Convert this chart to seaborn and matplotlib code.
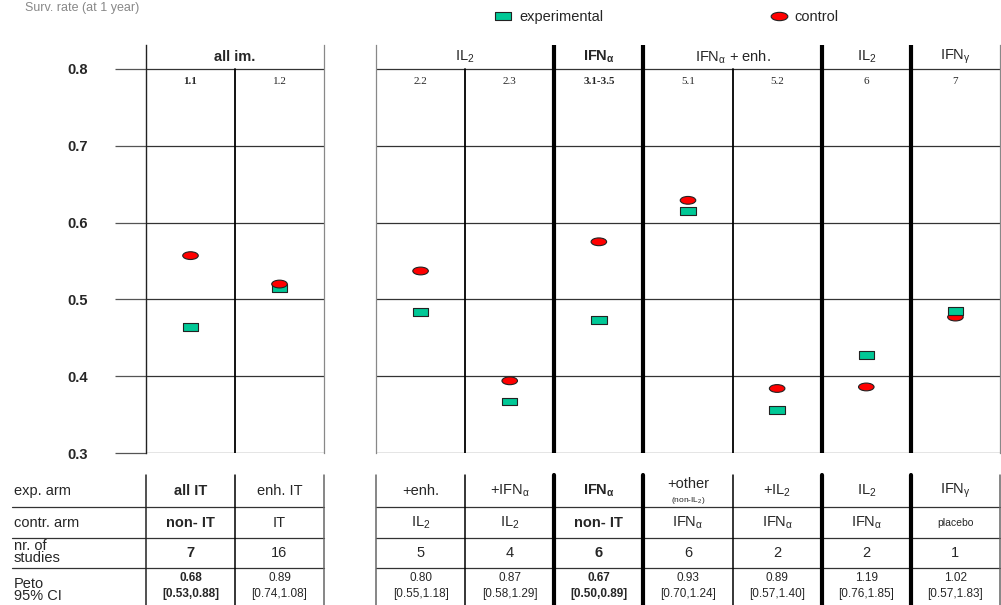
import numpy as np
import pandas as pd
import matplotlib
matplotlib.use("Agg")
import matplotlib.pyplot as plt
import matplotlib.transforms as mtransforms
from matplotlib.path import Path
from matplotlib.lines import Line2D
import seaborn as sns

sns.set_style('white')
plt.rcParams['font.family'] = ['Liberation Sans', 'DejaVu Sans']
plt.rcParams['mathtext.fontset'] = 'custom'
plt.rcParams['mathtext.rm'] = 'Liberation Sans'
plt.rcParams['mathtext.it'] = 'Liberation Sans'
plt.rcParams['mathtext.bf'] = 'Liberation Sans:bold'
plt.rcParams['mathtext.default'] = 'regular'

# ---- data ----
studies = ["1.1", "1.2", "2.2", "2.3", "3.1-3.5", "5.1", "5.2", "6", "7"]
panel = [0, 0, 1, 1, 1, 1, 1, 1, 1]
exp_rate = [0.464, 0.515, 0.484, 0.367, 0.473, 0.615, 0.356, 0.428, 0.485]
ctrl_rate = [0.557, 0.520, 0.537, 0.394, 0.575, 0.629, 0.384, 0.386, 0.477]
highlight = [True, False, False, False, True, False, False, False, False]

exp_arm = ["all IT", "enh. IT", "+enh.", "+IFN$_\\alpha$", "IFN$_\\mathbf{\\alpha}$",
           "+other", "+IL$_2$", "IL$_2$", "IFN$_\\gamma$"]
ctrl_arm = ["non- IT", "IT", "IL$_2$", "IL$_2$", "non- IT", "IFN$_\\alpha$",
            "IFN$_\\alpha$", "IFN$_\\alpha$", "placebo"]
n_studies = [7, 16, 5, 4, 6, 6, 2, 2, 1]
peto_or = [0.68, 0.89, 0.80, 0.87, 0.67, 0.93, 0.89, 1.19, 1.02]
ci_low = [0.53, 0.74, 0.55, 0.58, 0.50, 0.70, 0.57, 0.76, 0.57]
ci_high = [0.88, 1.08, 1.18, 1.29, 0.89, 1.24, 1.40, 1.85, 1.83]

# header groups per panel: (label, first slot, last slot, bold)
header_left = [("all im.", 0, 1, True)]
header_right = [("IL$_2$", 0, 1, False), ("IFN$_\\mathbf{\\alpha}$", 2, 2, True),
                ("IFN$_\\alpha$ + enh.", 3, 4, False), ("IL$_2$", 5, 5, False),
                ("IFN$_\\gamma$", 6, 6, False)]
# dividers inside the panels: (x, thick)
div_right = [(0.5, False), (1.5, True), (2.5, True), (3.5, False), (4.5, True), (5.5, True)]
div_left = [(0.5, False)]

y_ticks = [0.3, 0.4, 0.5, 0.6, 0.7, 0.8]

TEAL = '#00C896'
RED = '#FF0000'
GRID = '#333333'

rect = Path([(-1, -0.5), (1, -0.5), (1, 0.5), (-1, 0.5), (-1, -0.5)], closed=True)
circ = Path.unit_circle()
ellipse = Path(circ.vertices * np.array([1.0, 0.5]), circ.codes)

df = pd.DataFrame({"study": studies, "panel": panel,
                   "experimental": exp_rate, "control": ctrl_rate})
df["slot"] = df.groupby("panel").cumcount()
long = df.melt(id_vars=["study", "panel", "slot"], value_vars=["experimental", "control"],
               var_name="arm", value_name="rate")

W, H = 1001, 605
fig = plt.figure(figsize=(W / 100, H / 100), dpi=100)


def fx(px):
    return px / W


def fy(py):
    return 1 - py / H


ax_bot, ax_top = 453, 45
ax1 = fig.add_axes([fx(146), fy(ax_bot), fx(324 - 146), (ax_bot - ax_top) / H])
ax2 = fig.add_axes([fx(376), fy(ax_bot), fx(1000 - 376), (ax_bot - ax_top) / H])
ytop = 0.8 + 0.5 * (69 - 45) / (453 - 69)
frac = 0.5 / (ytop - 0.3)

for k, ax in enumerate([ax1, ax2]):
    sub = long[long["panel"] == k]
    order = ["experimental", "control"] if k == 0 else ["control", "experimental"]
    sub = pd.concat([sub[sub["arm"] == a] for a in order])
    sns.scatterplot(data=sub, x="slot", y="rate", hue="arm", style="arm",
                    palette={"experimental": TEAL, "control": RED},
                    markers={"experimental": rect, "control": ellipse},
                    s=125, edgecolor='#222222', linewidth=0.8, legend=False,
                    ax=ax, zorder=5)
    n = int((df["panel"] == k).sum())
    ax.set_xlim(-0.5, n - 0.5)
    ax.set_ylim(0.3, ytop)
    ax.set_xlabel("")
    ax.set_ylabel("")
    ax.set_xticks([])
    for v in y_ticks:
        ax.axhline(v, color=GRID, lw=0.9, zorder=1)
    for s in ["top", "bottom"]:
        ax.spines[s].set_visible(False)
    ax.spines["right"].set_color('#888888')
    ax.spines["right"].set_linewidth(0.9)

ax1.spines["left"].set_color('#222222')
ax1.spines["left"].set_linewidth(1.0)
ax2.spines["left"].set_color('#888888')
ax2.spines["left"].set_linewidth(0.9)

ax1.set_yticks(y_ticks)
ax1.set_yticklabels([f"{v:.1f}" for v in y_ticks], fontweight='bold', fontsize=10.5)
ax1.tick_params(axis='y', length=22, width=0.9, color='#555555', pad=20, left=True)
ax2.set_yticks([])

# column dividers inside the plots
for ax, divs in [(ax1, div_left), (ax2, div_right)]:
    for x, thick in divs:
        ax.axvline(x, ymin=0, ymax=1 if thick else frac, color='black',
                   lw=3.0 if thick else 1.3, zorder=2)

# header groups and study numbers
for ax, groups in [(ax1, header_left), (ax2, header_right)]:
    for label, a, b, bold in groups:
        ax.text((a + b) / 2, (0.8 + ytop) / 2, label, ha='center', va='center',
                fontsize=10.5, fontweight='bold' if bold else 'normal')

for i, row in df.iterrows():
    ax = ax1 if row["panel"] == 0 else ax2
    ax.text(row["slot"], 0.8 - 0.5 * 13 / 384, row["study"], ha='center', va='center',
            fontsize=8, family='Liberation Serif',
            fontweight='bold' if highlight[i] else 'normal')

# ---- table under the plots ----
row_lines = [507, 538, 568]
tab_top, tab_bot = 475, 605
for py in row_lines:
    fig.add_artist(Line2D([fx(12), fx(324)], [fy(py), fy(py)], color=GRID, lw=0.9))
    fig.add_artist(Line2D([fx(376), fx(1000)], [fy(py), fy(py)], color=GRID, lw=0.9))

for ax, divs, n in [(ax1, div_left, 2), (ax2, div_right, 7)]:
    tr = mtransforms.blended_transform_factory(ax.transData, fig.transFigure)
    edges = [(-0.5, False), (n - 0.5, False)]
    for x, thick in edges + divs:
        col = 'black' if (x, thick) in divs else '#666666'
        if ax is ax1 and x == -0.5:
            col = '#222222'
        fig.add_artist(Line2D([x, x], [fy(tab_top), fy(tab_bot)], transform=tr,
                              color=col, lw=3.0 if thick else 1.1))

row_labels = [("exp. arm", 491), ("contr. arm", 523), ("nr. of\nstudies", 552),
              ("Peto\n95% CI", 590)]
for lab, py in row_labels:
    fig.text(fx(14), fy(py), lab, ha='left', va='center', fontsize=10.5,
             linespacing=0.8)

for i, row in df.iterrows():
    ax = ax1 if row["panel"] == 0 else ax2
    tr = mtransforms.blended_transform_factory(ax.transData, fig.transFigure)
    x = row["slot"]
    w = 'bold' if highlight[i] else 'normal'
    if exp_arm[i] == "+other":
        ax.text(x, fy(484), "+other", transform=tr, ha='center', va='center', fontsize=10.5)
        ax.text(x, fy(500), "(non-IL$_2$)", transform=tr, ha='center', va='center',
                fontsize=6)
    else:
        ax.text(x, fy(491), exp_arm[i], transform=tr, ha='center', va='center',
                fontsize=10.5, fontweight=w)
    ax.text(x, fy(523), ctrl_arm[i], transform=tr, ha='center', va='center',
            fontsize=7.5 if ctrl_arm[i] == "placebo" else 10.5, fontweight=w)
    ax.text(x, fy(553), str(n_studies[i]), transform=tr, ha='center', va='center',
            fontsize=10.5, fontweight=w)
    ax.text(x, fy(578), f"{peto_or[i]:.2f}", transform=tr, ha='center', va='center',
            fontsize=8.5, fontweight=w)
    ax.text(x, fy(594), f"[{ci_low[i]:.2f},{ci_high[i]:.2f}]", transform=tr,
            ha='center', va='center', fontsize=8.5, fontweight=w)

# ---- legend and title ----
handles = [Line2D([], [], ls='', marker=rect, ms=11, mfc=TEAL, mec='#222222', mew=0.8),
           Line2D([], [], ls='', marker=ellipse, ms=12, mfc=RED, mec='#222222', mew=0.8)]
fig.legend(handles, ["experimental", "control"], ncol=2, loc='center left',
           bbox_to_anchor=(fx(483), fy(17)), frameon=False, fontsize=10.5,
           handlelength=1.0, handletextpad=0.6, columnspacing=11.5)

fig.text(fx(25), fy(2), "Surv. rate (at 1 year)", ha='left', va='top',
         fontsize=9, color='#888888')

fig.savefig("out.png", dpi=100)
